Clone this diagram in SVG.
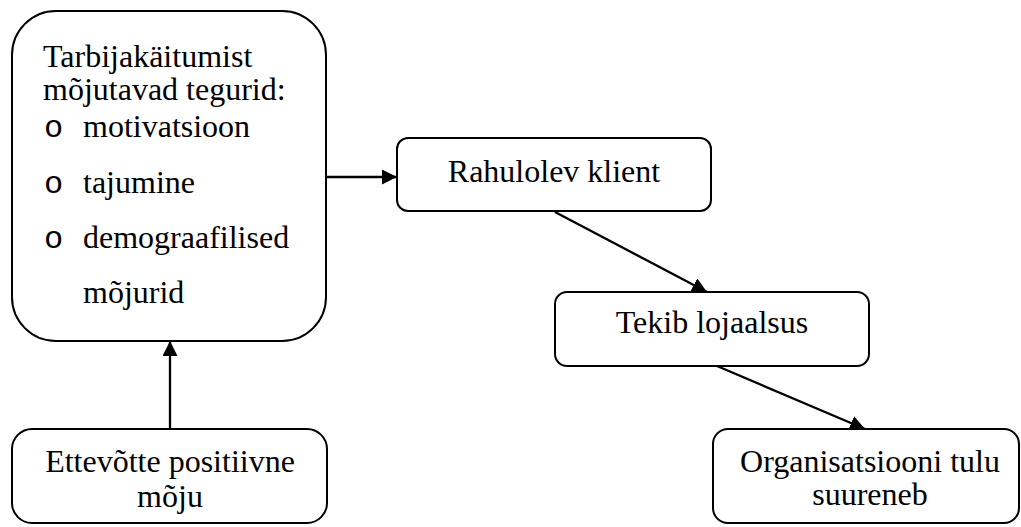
<svg xmlns="http://www.w3.org/2000/svg" width="1021" height="527" viewBox="0 0 1021 527">
  <style>
    .box { fill: #ffffff; stroke: #000000; stroke-width: 2; }
    .lbl { font-family: 'Liberation Serif', 'DejaVu Serif', serif; font-size: 32px; fill: #000000; }
    .mid { text-anchor: middle; }
    .bullet { font-family: 'Liberation Mono', 'DejaVu Sans Mono', monospace; font-size: 32px; fill: #000000; }
    .link { stroke: #000000; stroke-width: 2.3; fill: none; marker-end: url(#head); }
  </style>
  <defs>
    <!-- filled triangular arrowhead shared by every connector -->
    <marker id="head" markerUnits="userSpaceOnUse" markerWidth="16" markerHeight="15" refX="15" refY="7.5" orient="auto">
      <path d="M0,0 L15,7.5 L0,15 Z" fill="#000000"/>
    </marker>
  </defs>
  <rect width="1021" height="527" fill="#ffffff"/>

  <g id="connectors">
    <line class="link" x1="326" y1="177" x2="397" y2="177"/>
    <line class="link" x1="170" y1="429" x2="170" y2="341"/>
    <line class="link" x1="555" y1="212" x2="707" y2="292"/>
    <line class="link" x1="717" y1="366" x2="865" y2="429"/>
  </g>

  <g id="factors">
    <rect class="box" x="12" y="11" width="314" height="330" rx="44" ry="44"/>
    <text class="lbl" x="43" y="67">Tarbijakäitumist</text>
    <text class="lbl" x="43" y="100">mõjutavad tegurid:</text>
    <text class="bullet" x="44" y="137">o</text>
    <text class="lbl" x="83" y="137">motivatsioon</text>
    <text class="bullet" x="44" y="193">o</text>
    <text class="lbl" x="83" y="193">tajumine</text>
    <text class="bullet" x="44" y="248">o</text>
    <text class="lbl" x="83" y="248">demograafilised</text>
    <text class="lbl" x="83" y="303">mõjurid</text>
  </g>

  <g id="company">
    <rect class="box" x="12" y="429" width="315" height="94" rx="20" ry="20"/>
    <text class="lbl mid" x="170" y="472">Ettevõtte positiivne</text>
    <text class="lbl mid" x="170" y="507">mõju</text>
  </g>

  <g id="satisfied">
    <rect class="box" x="397" y="138" width="314" height="73" rx="11" ry="11"/>
    <text class="lbl mid" x="554" y="182">Rahulolev klient</text>
  </g>

  <g id="loyalty">
    <rect class="box" x="555" y="292" width="314" height="74" rx="12" ry="12"/>
    <text class="lbl mid" x="712" y="333">Tekib lojaalsus</text>
  </g>

  <g id="revenue">
    <rect class="box" x="713" y="429" width="306" height="94" rx="15" ry="15"/>
    <text class="lbl mid" x="870" y="472">Organisatsiooni tulu</text>
    <text class="lbl mid" x="870" y="505">suureneb</text>
  </g>
</svg>
